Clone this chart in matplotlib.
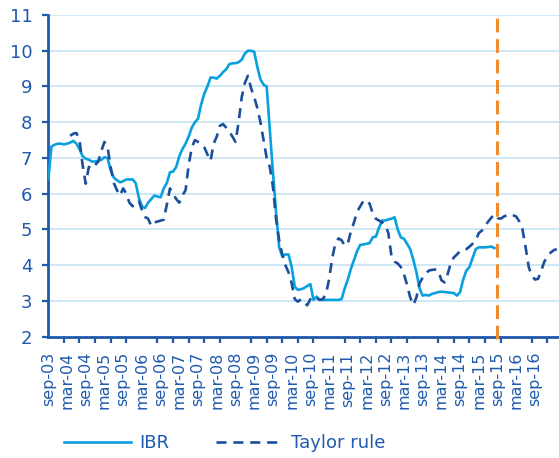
import numpy as np
import matplotlib
matplotlib.use("Agg")
import matplotlib.pyplot as plt

# ---- data (monthly, starting sep-03) ----
ibr = [6.4, 7.32, 7.37, 7.4, 7.4, 7.38, 7.4, 7.43, 7.48, 7.4,
       7.25, 7.05, 6.98, 6.95, 6.9, 6.9, 6.92, 6.95, 7.02, 7.0,
       6.65, 6.45, 6.38, 6.32, 6.35, 6.4, 6.4, 6.4, 6.3, 5.9,
       5.65, 5.6, 5.75, 5.85, 5.95, 5.92, 5.9, 6.15, 6.3, 6.6,
       6.62, 6.75, 7.05, 7.25, 7.4, 7.6, 7.85, 8.0, 8.1, 8.5,
       8.8, 9.0, 9.25, 9.25, 9.22, 9.3, 9.4, 9.48, 9.62, 9.65,
       9.65, 9.68, 9.75, 9.92, 10.0, 10.0, 9.97, 9.55, 9.2, 9.05,
       9.0, 7.8, 6.6, 5.5, 4.5, 4.25, 4.3, 4.3, 3.95, 3.4,
       3.31, 3.33, 3.36, 3.42, 3.47, 3.03, 3.12, 3.03, 3.03, 3.03,
       3.03, 3.03, 3.03, 3.03, 3.05, 3.35, 3.6, 3.9, 4.15, 4.4,
       4.57, 4.58, 4.6, 4.62, 4.78, 4.8, 5.05, 5.25, 5.25, 5.28,
       5.3, 5.34, 5.0, 4.78, 4.74, 4.6, 4.45, 4.15, 3.8, 3.35,
       3.15, 3.17, 3.15, 3.2, 3.22, 3.25, 3.26, 3.25, 3.24, 3.23,
       3.22, 3.15, 3.25, 3.6, 3.85, 3.95, 4.2, 4.45, 4.5, 4.5,
       4.5, 4.51, 4.52, 4.48]

taylor = [None, None, None, None, None, None, None, 7.62, 7.68, 7.7,
          7.5, 6.8, 6.28, 6.75, 6.7, 6.8, 6.9, 7.2, 7.45, 7.3,
          6.75, 6.3, 6.1, 5.95, 6.15, 6.0, 5.75, 5.65, 5.7, 5.8,
          5.55, 5.35, 5.3, 5.1, 5.2, 5.22, 5.25, 5.27, 5.7, 6.15,
          6.0, 5.85, 5.75, 5.95, 6.1, 6.8, 7.3, 7.5, 7.45, 7.38,
          7.3, 7.1, 6.92, 7.4, 7.6, 7.9, 7.95, 7.85, 7.75, 7.6,
          7.45, 8.0, 8.7, 9.1, 9.3, 8.95, 8.7, 8.4, 8.0, 7.5,
          7.0, 6.75, 6.2, 5.3, 4.7, 4.3, 4.0, 3.8, 3.5, 3.05,
          2.98, 3.05, 2.95, 2.88, 3.05, 3.12, 3.08, 3.03, 3.05, 3.2,
          3.6, 4.2, 4.6, 4.75, 4.7, 4.55, 4.6, 4.95, 5.2, 5.5,
          5.65, 5.8, 5.82, 5.72, 5.45, 5.3, 5.25, 5.2, 5.13, 4.9,
          4.25, 4.1, 4.05, 3.95, 3.75, 3.45, 3.1, 2.89, 3.1, 3.5,
          3.65, 3.77, 3.85, 3.87, 3.88, 3.85, 3.58, 3.52, 3.75, 4.05,
          4.22, 4.3, 4.4, 4.43, 4.45, 4.52, 4.6, 4.7, 4.9, 4.97,
          5.1, 5.22, 5.33, 5.42, 5.32, 5.3, 5.36, 5.4, 5.43, 5.4,
          5.36, 5.22, 5.0, 4.5, 3.95, 3.7, 3.6, 3.62, 3.85, 4.1,
          4.25, 4.35, 4.42, 4.45]

tick_labels = ["sep-03", "mar-04", "sep-04", "mar-05", "sep-05", "mar-06",
               "sep-06", "mar-07", "sep-07", "mar-08", "sep-08", "mar-09",
               "sep-09", "mar-10", "sep-10", "mar-11", "sep-11", "mar-12",
               "sep-12", "mar-13", "sep-13", "mar-14", "sep-14", "mar-15",
               "sep-15", "mar-16", "sep-16"]
break_month = 143.7  # position of the vertical marker (months since sep-03)

# ---- styling ----
DARK = "#1F5AAE"
LIGHT = "#0AA0E0"
TAY = "#1B4F9C"
GRID = "#CBE6F6"
ORANGE = "#F08C2C"

fig = plt.figure(figsize=(5.59, 4.58), dpi=100)
ax = fig.add_axes([48.3 / 559, (458 - 336.7) / 458, (559 - 48.3) / 559, (336.7 - 15) / 458])

x_ibr = np.arange(len(ibr))
x_tay = np.arange(len(taylor))
tay = np.array([np.nan if v is None else v for v in taylor], dtype=float)

ax.plot(x_ibr, ibr, color=LIGHT, lw=1.9, label="IBR", solid_joinstyle="round", zorder=3)
ax.plot(x_tay, tay, color=TAY, lw=1.9, linestyle=(0, (3.8, 2.6)), label="Taylor rule", zorder=4)
ax.axvline(break_month, ymin=-0.008, ymax=1, color=ORANGE, lw=2.2,
           linestyle=(0, (4.5, 2.2)), zorder=5, clip_on=False)

ax.set_xlim(0, len(taylor) - 0.3)
ax.set_ylim(2, 11)

ax.set_yticks(range(2, 12))
ax.yaxis.grid(True, color=GRID, lw=1.3)
ax.set_axisbelow(True)

ax.set_xticks(np.arange(0, 6 * len(tick_labels), 6))
ax.set_xticklabels(tick_labels, rotation=90, fontsize=11.5, color=DARK, family="DejaVu Sans")
ax.set_xticks(np.arange(0, len(taylor), 5), minor=True)
ax.tick_params(axis="x", which="major", length=0, pad=11)
ax.tick_params(axis="x", which="minor", length=4, width=1.6, color=DARK, direction="out")
ax.tick_params(axis="y", length=4.5, width=1.6, color=DARK, pad=7, labelsize=13, labelcolor=DARK)
for lab in ax.get_yticklabels():
    lab.set_family("DejaVu Sans")

for s in ["top", "right"]:
    ax.spines[s].set_visible(False)
for s in ["left", "bottom"]:
    ax.spines[s].set_color(DARK)
    ax.spines[s].set_linewidth(2)

leg = fig.legend(handles=ax.get_lines()[:2], loc="center left",
                 bbox_to_anchor=(55 / 559, 1 - 443 / 458), ncol=2, frameon=False,
                 borderpad=0, handlelength=3.7, handletextpad=0.45, columnspacing=2.6,
                 prop={"family": "DejaVu Sans", "size": 13})
for t in leg.get_texts():
    t.set_color(DARK)

fig.savefig("out.png", dpi=100)
